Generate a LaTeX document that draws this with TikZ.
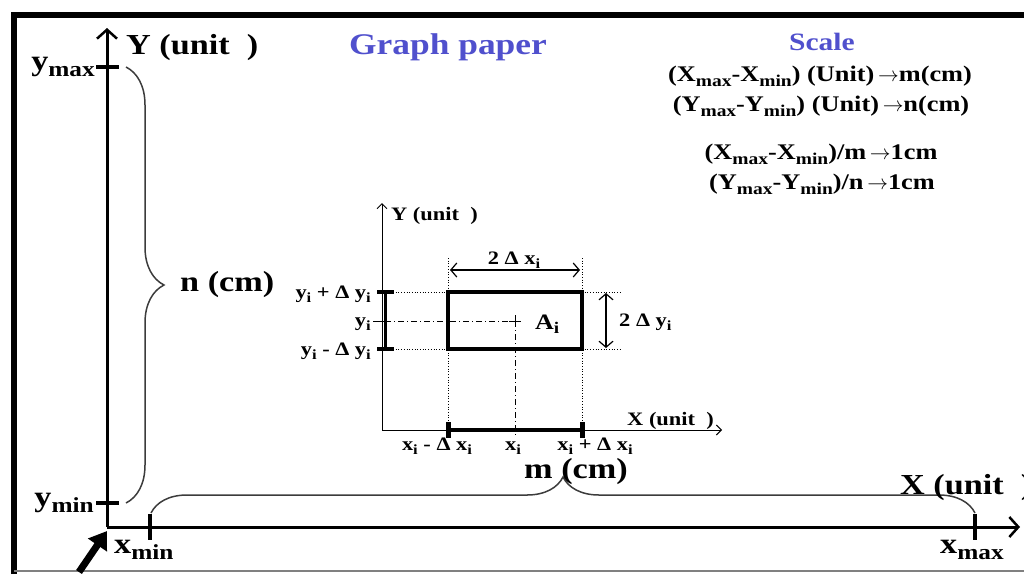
\documentclass[tikz,border=0pt]{standalone}
\usepackage{fontspec}
\usepackage{graphicx}
\setmainfont{Liberation Serif}[FakeStretch=1.18]
\usetikzlibrary{arrows.meta,decorations.pathreplacing}
\definecolor{gblue}{RGB}{80,80,205}
\definecolor{brc}{RGB}{60,60,60}
\newcommand\sub[1]{\raisebox{-0.22em}{\scalebox{0.74}{#1}}}
\newcommand\arr{\,$\rightarrow$}
\begin{document}
\begin{tikzpicture}[x=1pt,y=-1pt,
 big/.style={font=\fontsize{29}{32}\selectfont\bfseries, inner sep=0},
 med/.style={font=\fontsize{22.3}{25}\selectfont\bfseries, inner sep=0},
 sml/.style={font=\fontsize{19}{21}\selectfont\bfseries, inner sep=0},
 ttl/.style={font=\fontsize{30}{34}\selectfont\bfseries, text=gblue, inner sep=0},
 mainaxis/.style={line width=3, -{Straight Barb[length=9,width=20,line width=2.5]}},
 inaxis/.style={line width=1, -{Straight Barb[length=5,width=10,line width=1]}},
 tick/.style={line width=4},
 brc/.style={draw=brc, line width=1.5, decorate},
 dots/.style={line width=0.7, dotted},
 dd/.style={line width=0.8, dash pattern=on 6pt off 3pt on 1pt off 3pt},
 dimarr/.style={line width=1.2, {Straight Barb[length=6,width=14,line width=1.2]}-{Straight Barb[length=6,width=14,line width=1.2]}},
]
\useasboundingbox (0,0) rectangle (1024,574);
% frame
\coordinate (f1) at (14,574); \coordinate (f2) at (14,15); \coordinate (f3) at (1024,15);
\coordinate (f4) at (14,571); \coordinate (f5) at (1024,571);
\draw[line width=6] (f1) -- (f2) -- (f3);
\draw[line width=1.5, gray] (f4) -- (f5);
% main axes
\coordinate (O) at (107,527);
\coordinate (Ytop) at (107,28);
\coordinate (Xend) at (1020,527);
\draw[mainaxis] (O) -- (Ytop);
\draw[mainaxis] (O) -- (Xend);
% ticks
\coordinate (ymx1) at (96,67); \coordinate (ymx2) at (119,67);
\coordinate (ymn1) at (96,503); \coordinate (ymn2) at (119,503);
\coordinate (xmn1) at (150,514); \coordinate (xmn2) at (150,540);
\coordinate (xmx1) at (975,514); \coordinate (xmx2) at (975,540);
\draw[tick] (ymx1) -- (ymx2);
\draw[tick] (ymn1) -- (ymn2);
\draw[tick] (xmn1) -- (xmn2);
\draw[tick] (xmx1) -- (xmx2);
% braces
\coordinate (bv1) at (126,67); \coordinate (bv2) at (126,503);
\coordinate (bh1) at (151,513); \coordinate (bh2) at (975,513);
\draw[brc, decoration={brace, amplitude=38}] (bv1) -- (bv2);
\draw[brc, decoration={brace, amplitude=36}] (bh1) -- (bh2);
% big arrow
\coordinate (ba1) at (79,572); \coordinate (ba2) at (107,531);
\draw[line width=7, -{Triangle[length=17,width=22]}] (ba1) -- (ba2);
% main labels
\node[big, anchor=base east] (lymax) at (95,70) {y\sub{max}};
\node[big, anchor=base east] (lymin) at (94,506) {y\sub{min}};
\node[big, anchor=base west] (lxmin) at (114,553) {x\sub{min}};
\node[big, anchor=base west] (lxmax) at (940,553) {x\sub{max}};
\node[big, anchor=base west] (lY) at (126,54) {Y (unit~ )};
\node[big, anchor=base west] (lX) at (900,494) {X (unit~ )};
\node[big, anchor=west] (ln) at (180,285) {n (cm)};
\node[big, anchor=base] (lm) at (576,478) {m (cm)};
% title and scale
\node[ttl] (title) at (448,47) {Graph paper};
\node[font=\fontsize{25}{28}\selectfont\bfseries, text=gblue, inner sep=0] (scale) at (822,42) {Scale};
\node[med] (s1) at (820,76) {(X\sub{max}-X\sub{min}) (Unit)\arr m(cm)};
\node[med] (s2) at (821,106) {(Y\sub{max}-Y\sub{min}) (Unit)\arr n(cm)};
\node[med] (s3) at (821,154) {(X\sub{max}-X\sub{min})/m\arr 1cm};
\node[med] (s4) at (822,184) {(Y\sub{max}-Y\sub{min})/n\arr 1cm};
% inner graph
\coordinate (o) at (382,430);
\coordinate (iyt) at (382,203);
\coordinate (ixe) at (722,430);
\draw[inaxis] (o) -- (iyt);
\draw[inaxis] (o) -- (ixe);
\node[sml, anchor=base west] (iY) at (391,220) {Y (unit~ )};
\node[sml, anchor=base west] (iX) at (627,425) {X (unit~ )};
% dotted guides
\coordinate (dv1a) at (448,258); \coordinate (dv1b) at (448,430);
\coordinate (dv2a) at (582,258); \coordinate (dv2b) at (582,430);
\coordinate (dh1a) at (393,292); \coordinate (dh1b) at (622,292);
\coordinate (dh2a) at (393,349); \coordinate (dh2b) at (622,349);
\draw[dots] (dv1a) -- (dv1b);
\draw[dots] (dv2a) -- (dv2b);
\draw[dots] (dh1a) -- (dh1b);
\draw[dots] (dh2a) -- (dh2b);
% dash-dot
\coordinate (c) at (515,321);
\coordinate (cl) at (385,321);
\coordinate (cb) at (515,438);
\draw[dd] (cl) -- (c);
\draw[dd] (c) -- (cb);
% rectangle
\coordinate (r1) at (448,292); \coordinate (r2) at (582,349);
\draw[line width=3.5] (r1) rectangle (r2);
% centre cross
\coordinate (cx1) at (509,321); \coordinate (cx2) at (521,321);
\coordinate (cy1) at (515,315); \coordinate (cy2) at (515,327);
\draw[line width=1] (cx1) -- (cx2) (cy1) -- (cy2);
\node[font=\fontsize{22}{24}\selectfont\bfseries, inner sep=0, anchor=base west] (Ai) at (535,329) {A\sub{i}};
% thick bars on inner axes
\coordinate (yb1) at (385,292); \coordinate (yb2) at (385,349);
\draw[line width=3] (yb1) -- (yb2);
\coordinate (yt1a) at (377,292); \coordinate (yt1b) at (394,292);
\coordinate (yt2a) at (377,349); \coordinate (yt2b) at (394,349);
\draw[tick] (yt1a) -- (yt1b);
\draw[tick] (yt2a) -- (yt2b);
\coordinate (yit) at (373,321);
\draw[line width=1] (yit) -- (cl);
\coordinate (xb1) at (448,430); \coordinate (xb2) at (582,430);
\draw[line width=4] (xb1) -- (xb2);
\coordinate (xt1a) at (448,422); \coordinate (xt1b) at (448,438);
\coordinate (xt2a) at (582,422); \coordinate (xt2b) at (582,438);
\draw[line width=5] (xt1a) -- (xt1b);
\draw[line width=5] (xt2a) -- (xt2b);
% inner labels
\node[sml, anchor=base east] (l1) at (371,298) {y\sub{i} + Δ y\sub{i}};
\node[sml, anchor=base east] (l2) at (371,326) {y\sub{i}};
\node[sml, anchor=base east] (l3) at (371,355) {y\sub{i} - Δ y\sub{i}};
\node[sml, anchor=base] (b1) at (437,450) {x\sub{i} - Δ x\sub{i}};
\node[sml, anchor=base] (b2) at (513,450) {x\sub{i}};
\node[sml, anchor=base] (b3) at (595,450) {x\sub{i} + Δ x\sub{i}};
% dimension arrows
\coordinate (dx1) at (450,270); \coordinate (dx2) at (580,270);
\draw[dimarr] (dx1) -- (dx2);
\node[sml, anchor=base] (dxl) at (514,264) {2 Δ x\sub{i}};
\coordinate (dy1) at (606,293); \coordinate (dy2) at (606,348);
\draw[dimarr] (dy1) -- (dy2);
\node[sml, anchor=base west] (dyl) at (619,326) {2 Δ y\sub{i}};
\end{tikzpicture}
\end{document}
